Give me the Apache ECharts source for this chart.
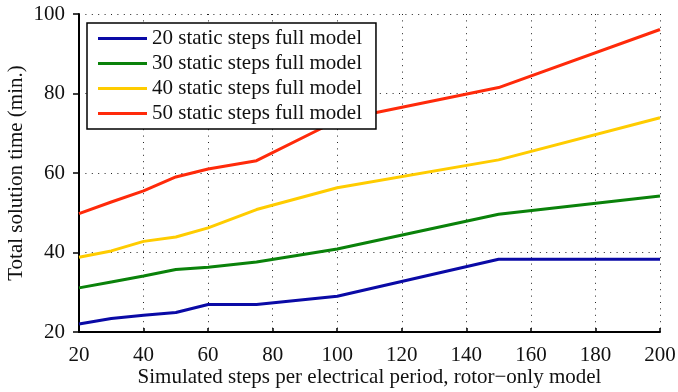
<!DOCTYPE html>
<html>
<head>
<meta charset="utf-8">
<script src="https://cdn.jsdelivr.net/npm/echarts@6/dist/echarts.min.js"></script>
<style>
  html, body { margin: 0; padding: 0; background: #fff; }
  #chart { width: 678px; height: 392px; }
</style>
</head>
<body>
<div id="chart"></div>
<script>
// Simulated steps per electrical period (rotor-only model)
const steps = [20, 30, 40, 50, 60, 75, 100, 150, 200];

// Total solution time (min.) for each full-model static step count
const time20 = [22.0, 23.4, 24.2, 24.9, 26.9, 26.9, 29.0, 38.3, 38.3];
const time30 = [31.1, 32.6, 34.1, 35.7, 36.3, 37.6, 40.9, 49.6, 54.2];
const time40 = [38.8, 40.4, 42.8, 43.9, 46.2, 50.8, 56.3, 63.3, 73.9];
const time50 = [49.8, 52.7, 55.5, 59.0, 61.0, 63.1, 73.2, 81.5, 96.1];

const seriesNames = [
  '20 static steps full model',
  '30 static steps full model',
  '40 static steps full model',
  '50 static steps full model'
];
const seriesColors = ['#0a0aa6', '#0a820a', '#ffcc00', '#ff2a0a'];

const font = '"Liberation Serif", "DejaVu Serif", serif';
const fs = 21;

const pairs = arr => steps.map((s, i) => [s, arr[i]]);
const values = [time20, time30, time40, time50];

const chart = echarts.init(document.getElementById('chart'));
chart.setOption({
  animation: false,
  backgroundColor: '#fff',
  grid: { left: 79, right: 18, top: 14, bottom: 60, containLabel: false, outerBoundsMode: 'none' },
  legend: {
    orient: 'vertical',
    left: 87,
    top: 23,
    padding: [3, 14, 3, 11],
    itemGap: 0,
    itemWidth: 49,
    itemHeight: 3,
    icon: 'rect',
    borderColor: '#000',
    borderWidth: 1.5,
    borderRadius: 0,
    backgroundColor: '#fff',
    textStyle: { fontFamily: font, fontSize: fs, color: '#111', lineHeight: 25, padding: [0, 0, 0, 0] },
    data: seriesNames
  },
  xAxis: {
    type: 'value',
    min: 20, max: 200, interval: 20,
    name: 'Simulated steps per electrical period, rotor\u2212only model',
    nameLocation: 'middle',
    nameGap: 35,
    nameMoveOverlap: false,
    nameTextStyle: { fontFamily: font, fontSize: fs, color: '#111' },
    axisLine: { show: true, lineStyle: { color: '#000', width: 2 } },
    axisTick: { show: true, inside: true, length: 4, lineStyle: { color: '#000', width: 1.5 } },
    axisLabel: { fontFamily: font, fontSize: fs, color: '#111', margin: 13 },
    splitLine: { show: true, lineStyle: { color: '#222', type: [1, 5.4], width: 1 } }
  },
  yAxis: {
    type: 'value',
    min: 20, max: 100, interval: 20,
    name: 'Total solution time (min.)',
    nameLocation: 'middle',
    nameGap: 52,
    nameMoveOverlap: false,
    nameTextStyle: { fontFamily: font, fontSize: fs, color: '#111' },
    axisLine: { show: true, lineStyle: { color: '#000', width: 2 } },
    axisTick: { show: true, inside: false, length: 6, lineStyle: { color: '#000', width: 1.5 } },
    axisLabel: { fontFamily: font, fontSize: fs, color: '#111', margin: 14 },
    splitLine: { show: true, lineStyle: { color: '#222', type: [1, 5.4], width: 1 } }
  },
  series: seriesNames.map((name, k) => ({
    name,
    type: 'line',
    data: pairs(values[k]),
    showSymbol: false,
    symbol: 'none',
    color: seriesColors[k],
    lineStyle: { width: 3, color: seriesColors[k] },
    z: 3
  }))
});
</script>
</body>
</html>
